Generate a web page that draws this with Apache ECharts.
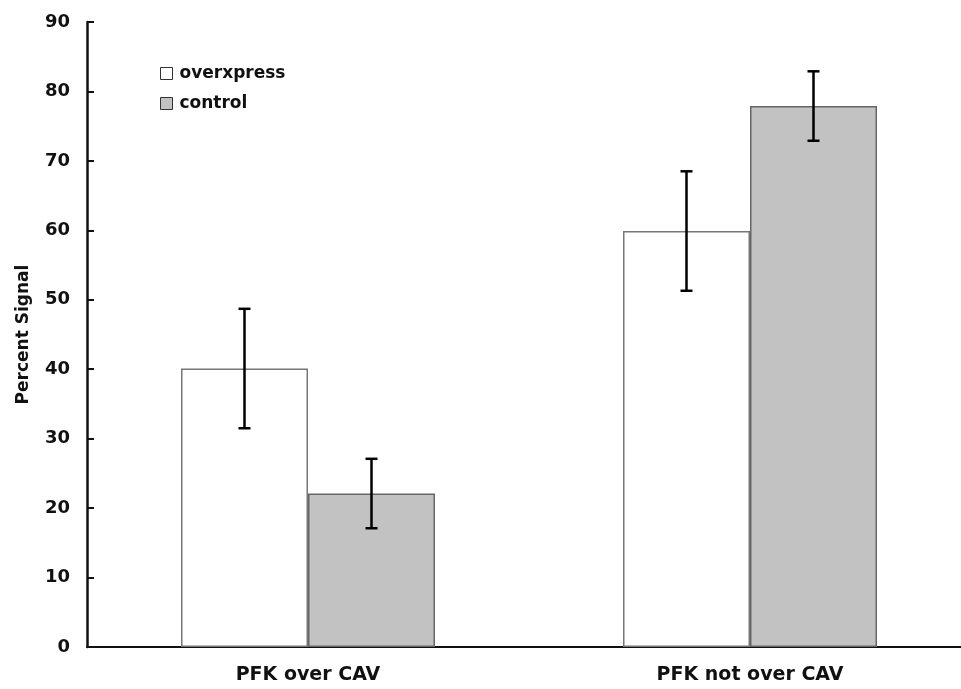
<!DOCTYPE html>
<html lang="en">
<head>
  <meta charset="UTF-8">
  <title>Percent Signal</title>
  <script src="https://cdn.jsdelivr.net/npm/echarts@6/dist/echarts.min.js"></script>
  <style>
    html, body { margin:0; padding:0; background:#fff; overflow:hidden; }
    /* x axis runs past the right edge in the original, so the canvas is a bit wider */
    #main { width:971px; height:689px; }
  </style>
</head>
<body>
<div id="main"></div>
<script>
  var categories = ['PFK over CAV', 'PFK not over CAV'];
  var overexpress = [40.1, 59.9];
  var overexpressErr = [8.6, 8.6];
  var control = [22.1, 77.9];
  var controlErr = [5.0, 5.0];
  var yTicks = [0, 10, 20, 30, 40, 50, 60, 70, 80, 90];

  var BAR_W = 127;
  var FONT = 'DejaVu Sans, Verdana, sans-serif';

  // error bar for one series; side -1 = left bar, +1 = right bar
  function errSeries(vals, errs, side) {
    return {
      type: 'custom',
      silent: true,
      z: 10,
      data: vals.map(function (v, i) { return [i, v - errs[i], v + errs[i]]; }),
      renderItem: function (params, api) {
        var lo = api.coord([api.value(0), api.value(1)]);
        var hi = api.coord([api.value(0), api.value(2)]);
        var x = lo[0] + side * BAR_W / 2;
        var cap = 6;
        var st = { stroke: '#000', lineWidth: 2.5 };
        return {
          type: 'group',
          children: [
            { type: 'line', shape: { x1: x, y1: hi[1], x2: x, y2: lo[1] }, style: st },
            { type: 'line', shape: { x1: x - cap, y1: hi[1], x2: x + cap, y2: hi[1] }, style: st },
            { type: 'line', shape: { x1: x - cap, y1: lo[1], x2: x + cap, y2: lo[1] }, style: st }
          ]
        };
      }
    };
  }

  var chart = echarts.init(document.getElementById('main'));
  chart.setOption({
    animation: false,
    backgroundColor: '#fff',
    grid: { left: 87, right: 0, top: 22, bottom: 42 },
    legend: {
      orient: 'vertical',
      left: 155,
      top: 60,
      itemWidth: 12,
      itemHeight: 12,
      itemGap: 13,
      icon: 'rect',
      textStyle: { fontFamily: FONT, fontWeight: 'bold', fontSize: 17, color: '#111', padding: [0, 0, 0, 2] },
      data: [
        { name: 'overxpress', itemStyle: { borderColor: '#333', borderWidth: 1 } },
        { name: 'control', itemStyle: { borderColor: '#333', borderWidth: 1 } }
      ]
    },
    xAxis: {
      type: 'category',
      data: categories,
      axisLine: { lineStyle: { color: '#111', width: 2 } },
      axisTick: { show: false },
      axisLabel: { fontFamily: FONT, fontWeight: 'bold', fontSize: 19, color: '#111', margin: 19 }
    },
    yAxis: {
      type: 'value',
      min: yTicks[0],
      max: yTicks[yTicks.length - 1],
      interval: 10,
      name: 'Percent Signal',
      nameLocation: 'middle',
      nameGap: 55,
      nameTextStyle: { fontFamily: FONT, fontWeight: 'bold', fontSize: 17, color: '#111' },
      axisLine: { show: true, lineStyle: { color: '#111', width: 2.5 } },
      axisTick: { show: true, inside: true, length: 7, lineStyle: { color: '#111', width: 2 } },
      splitLine: { show: false },
      axisLabel: { fontFamily: FONT, fontWeight: 'bold', fontSize: 18, color: '#111', margin: 17 }
    },
    series: [
      {
        name: 'overxpress',
        type: 'bar',
        barWidth: BAR_W,
        barGap: '0%',
        data: overexpress,
        itemStyle: { color: '#fff', borderColor: '#777', borderWidth: 1.5 }
      },
      {
        name: 'control',
        type: 'bar',
        barWidth: BAR_W,
        barGap: '0%',
        data: control,
        itemStyle: { color: '#c2c2c2', borderColor: '#666', borderWidth: 1.5 }
      },
      errSeries(overexpress, overexpressErr, -1),
      errSeries(control, controlErr, 1)
    ]
  });
</script>
</body>
</html>
